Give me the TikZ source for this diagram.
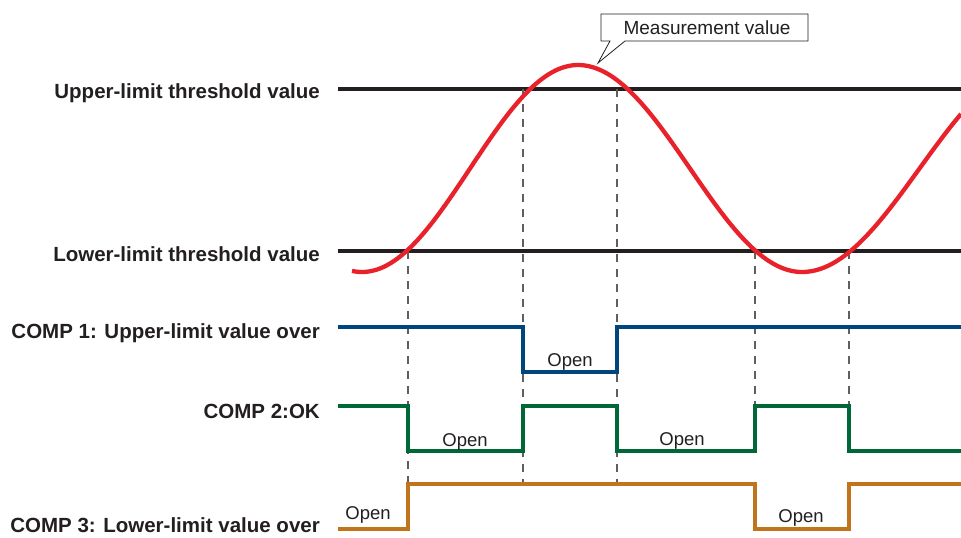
\documentclass[tikz,border=0pt]{standalone}
\usepackage{fontspec}
\setmainfont{Liberation Sans}
\definecolor{ink}{RGB}{35,31,32}
\definecolor{curvered}{RGB}{232,33,43}
\definecolor{cone}{RGB}{0,70,125}
\definecolor{ctwo}{RGB}{0,104,55}
\definecolor{cthree}{RGB}{192,116,28}
\definecolor{dashc}{RGB}{95,95,95}
\tikzset{
  lbl/.style={anchor=base east, font=\fontsize{20.5}{24}\selectfont\bfseries, text=ink, inner sep=0pt},
  opentxt/.style={anchor=base, font=\fontsize{18.5}{22}\selectfont, text=ink, inner sep=0pt},
  thr/.style={line width=4.3pt, ink},
  sig/.style={line width=4.3pt, line join=miter},
  guide/.style={dashc, line width=1.2pt, dash pattern=on 8pt off 7pt},
}
\begin{document}
\begin{tikzpicture}[x=1pt,y=-1pt]
\useasboundingbox (0,0) rectangle (961,538);
% labels
\node[lbl] (lup) at (320,98) {Upper-limit threshold value};
\node[lbl] (llo) at (320,261) {Lower-limit threshold value};
\node[lbl] (lc1) at (320,338) {COMP 1: Upper-limit value over};
\node[lbl] (lc2) at (320,418) {COMP 2:OK};
\node[lbl] (lc3) at (320,532.5) {COMP 3: Lower-limit value over};
% threshold lines
\coordinate (ua) at (338,89); \coordinate (ub) at (961,89);
\coordinate (la) at (338,251); \coordinate (lb) at (961,251);
\draw[thr] (ua) -- (ub);
\draw[thr] (la) -- (lb);
% dashed guides
\coordinate (g1a) at (408,251); \coordinate (g1b) at (408,484);
\coordinate (g2a) at (523,89);  \coordinate (g2b) at (523,484);
\coordinate (g3a) at (617,89);  \coordinate (g3b) at (617,484);
\coordinate (g4a) at (755,251); \coordinate (g4b) at (755,406);
\coordinate (g5a) at (849,251); \coordinate (g5b) at (849,406);
\draw[guide] (g1a) -- (g1b);
\draw[guide] (g2a) -- (g2b);
\draw[guide] (g3a) -- (g3b);
\draw[guide] (g4a) -- (g4b);
\draw[guide] (g5a) -- (g5b);
% signals
\draw[sig, cone] (338,327) -- (523,327) -- (523,372) -- (617,372) -- (617,327) -- (961,327);
\draw[sig, ctwo] (338,406) -- (408,406) -- (408,451) -- (523,451) -- (523,406) -- (617,406) -- (617,451) -- (755,451) -- (755,406) -- (849,406) -- (849,451) -- (961,451);
\draw[sig, cthree] (338,529) -- (408,529) -- (408,484) -- (755,484) -- (755,529) -- (849,529) -- (849,484) -- (961,484);
% open labels
\node[opentxt] (o1) at (570,366) {Open};
\node[opentxt] (o2) at (465,446) {Open};
\node[opentxt] (o3) at (682,445) {Open};
\node[opentxt] (o4) at (368,519) {Open};
\node[opentxt] (o5) at (801,522) {Open};
% measurement curve
\draw[curvered, line width=4.3pt, line join=round]
  plot[domain=352:578, samples=70] (\x,{168.5+103.5*cos((\x-362)*0.833333)})
  -- plot[domain=578:802, samples=70] (\x,{168.5-103.5*cos((\x-578)*0.803571)})
  -- plot[domain=802:961, samples=50] (\x,{168.5+103.5*cos((\x-802)*0.765957)});
% callout
\draw[ink, line width=0.8pt, fill=white] (601,14) -- (808,14) -- (808,41) -- (625,41) -- (598,63) -- (610,41) -- (601,41) -- cycle;
\node[opentxt, font=\fontsize{19}{22}\selectfont] (mv) at (707,34) {Measurement value};
\end{tikzpicture}
\end{document}
